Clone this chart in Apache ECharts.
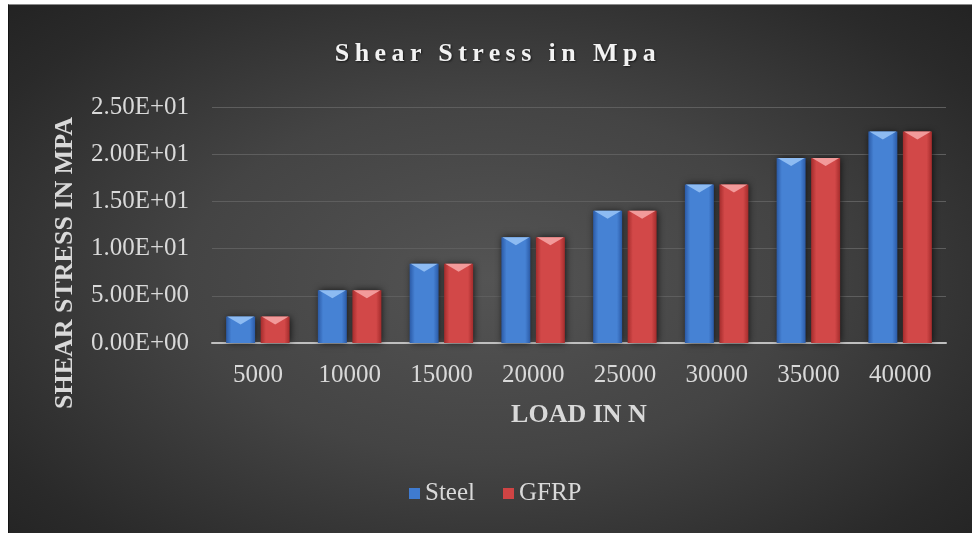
<!DOCTYPE html>
<html>
<head>
<meta charset="utf-8">
<script src="https://cdn.jsdelivr.net/npm/echarts@6/dist/echarts.min.js"></script>
<style>
  html, body { margin: 0; padding: 0; background: #fff; width: 972px; height: 533px; overflow: hidden; }
  #wrap {
    position: absolute; left: 8px; top: 4px;
    border-top: 1px solid #8a8a8a; border-left: 1px solid #141414;
    background: radial-gradient(ellipse 70% 75% at 50% 52%, #545454 0%, #444444 45%, #2a2a2a 85%, #232323 100%);
  }
  #chart { width: 963px; height: 528px; }
  #title {
    position: absolute; left: 498px; top: 38px; transform: translateX(-50%);
    font: bold 26px "Liberation Serif", serif; line-height: 30px;
    letter-spacing: 5.4px; color: #f2f2f2; white-space: nowrap;
    text-shadow: 1px 1px 2px rgba(0,0,0,0.6);
  }
</style>
</head>
<body>
<div id="wrap"><div id="chart"></div></div>
<div id="title">Shear Stress in Mpa</div>
<script>
// values
const loads = ["5000", "10000", "15000", "20000", "25000", "30000", "35000", "40000"];
const steel = [2.8, 5.6, 8.4, 11.2, 14.0, 16.8, 19.6, 22.4];
const gfrp = [2.8, 5.6, 8.4, 11.2, 14.0, 16.8, 19.6, 22.4];

const serif = "Liberation Serif";
const textCol = "#d9d9d9";

function sci(v) {
  const parts = v.toExponential(2).split("e");
  let e = parseInt(parts[1], 10);
  const sign = e < 0 ? "-" : "+";
  e = Math.abs(e);
  return parts[0] + "E" + sign + (e < 10 ? "0" + e : e);
}

function sideGrad(edge, mid) {
  return new echarts.graphic.LinearGradient(0, 0, 1, 0, [
    { offset: 0, color: edge },
    { offset: 0.18, color: mid },
    { offset: 0.82, color: mid },
    { offset: 1, color: edge }
  ]);
}

const blue = sideGrad("#2b5aa6", "#4682d4");
const red = sideGrad("#a42c2c", "#d24848");
const bevel = "path://M0,0 L10,0 L5,8 Z";

const chart = echarts.init(document.getElementById("chart"));

const barShadow = {
  shadowBlur: 7,
  shadowColor: "rgba(0,0,0,0.75)",
  shadowOffsetX: 1
};

chart.setOption({
  animation: false,
  backgroundColor: "transparent",
  textStyle: { fontFamily: serif },
  legend: {
    data: [
      { name: "Steel", itemStyle: { color: "#3f7bd0" } },
      { name: "GFRP", itemStyle: { color: "#cf4444" } }
    ],
    left: 395,
    top: 471,
    icon: "rect",
    itemWidth: 11,
    itemHeight: 11,
    itemGap: 28,
    textStyle: { color: textCol, fontSize: 25, fontFamily: serif }
  },
  grid: { left: 203, right: 26, top: 102, bottom: 190 },
  xAxis: {
    type: "category",
    data: loads,
    name: "LOAD IN N",
    nameLocation: "middle",
    nameGap: 59,
    nameTextStyle: { color: textCol, fontSize: 26, fontWeight: "bold", fontFamily: serif },
    axisLine: { lineStyle: { color: "#bfbfbf", width: 2 } },
    axisTick: { show: false },
    axisLabel: { color: textCol, fontSize: 25, margin: 20, fontFamily: serif }
  },
  yAxis: {
    type: "value",
    min: 0,
    max: 25,
    interval: 5,
    name: "SHEAR STRESS IN MPA",
    nameLocation: "middle",
    nameGap: 134,
    nameTextStyle: {
      color: textCol, fontSize: 26, fontWeight: "bold", fontFamily: serif,
      padding: [0, 76, 0, 0]
    },
    axisLine: { show: false },
    axisTick: { show: false },
    splitLine: { lineStyle: { color: "#5e5e5e", width: 1 } },
    axisLabel: { color: textCol, fontSize: 25, margin: 23, fontFamily: serif, formatter: sci }
  },
  series: [
    {
      name: "Steel",
      type: "bar",
      data: steel,
      barWidth: 29,
      barGap: "19%",
      itemStyle: Object.assign({ color: blue }, barShadow)
    },
    {
      name: "GFRP",
      type: "bar",
      data: gfrp,
      barWidth: 29,
      barGap: "19%",
      itemStyle: Object.assign({ color: red }, barShadow)
    },
    {
      name: "Steel top",
      type: "pictorialBar",
      data: steel,
      barWidth: 29,
      barGap: "19%",
      symbol: bevel,
      symbolSize: [27, 8],
      symbolPosition: "end",
      z: 5,
      silent: true,
      itemStyle: { color: "#8dbbf2" }
    },
    {
      name: "GFRP top",
      type: "pictorialBar",
      data: gfrp,
      barWidth: 29,
      barGap: "19%",
      symbol: bevel,
      symbolSize: [27, 8],
      symbolPosition: "end",
      z: 5,
      silent: true,
      itemStyle: { color: "#f29a9a" }
    }
  ]
});
</script>
</body>
</html>
